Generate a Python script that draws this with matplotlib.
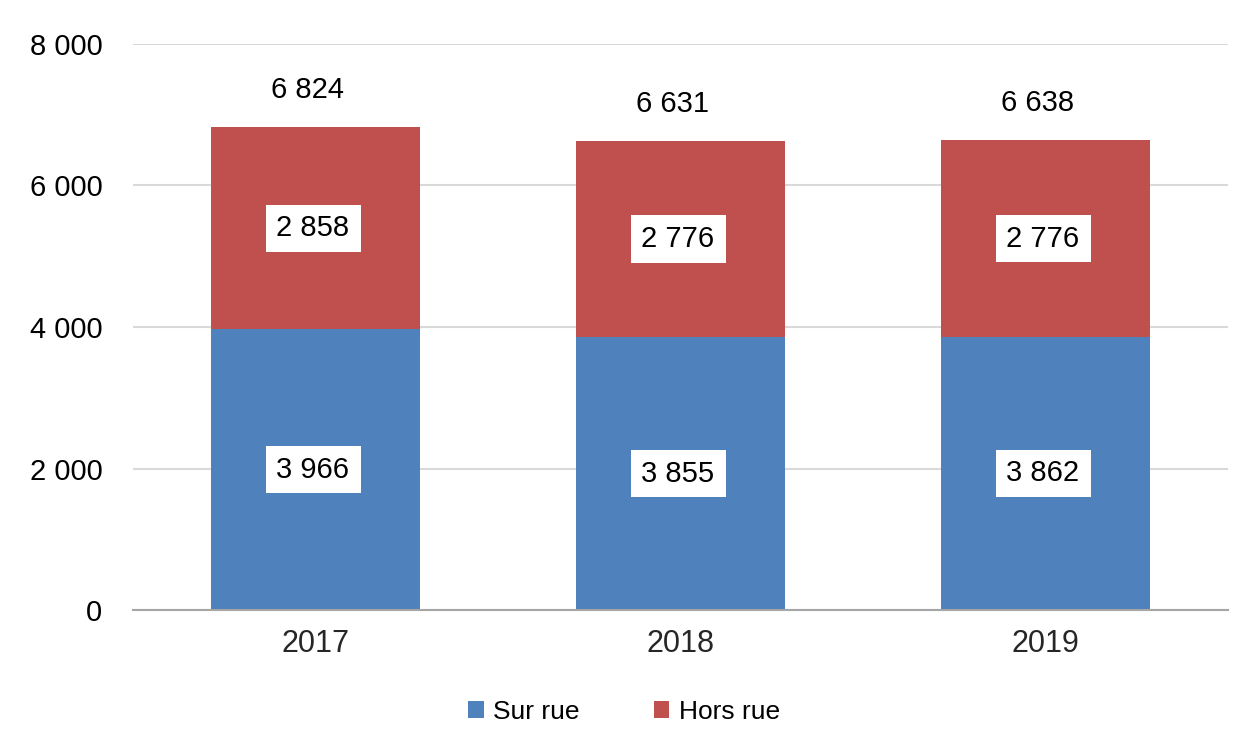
import matplotlib
matplotlib.use("Agg")
import matplotlib.pyplot as plt
from matplotlib.ticker import FuncFormatter

plt.rcParams['font.family'] = ['Liberation Sans', 'DejaVu Sans']

years = ['2017', '2018', '2019']
sur_rue = [3966, 3855, 3862]
hors_rue = [2858, 2776, 2776]
totals = [6824, 6631, 6638]

blue = '#4F81BD'
red = '#C0504D'

def fmt(v):
    return f"{int(v):,}".replace(',', ' ')

fig = plt.figure(figsize=(12.48, 7.4), dpi=100)
ax = fig.add_axes([133 / 1248, 130 / 740, 1095 / 1248, 566 / 740])

x = range(len(years))
w = 0.57
ax.bar(x, sur_rue, width=w, color=blue, label='Sur rue', zorder=3)
ax.bar(x, hors_rue, width=w, bottom=sur_rue, color=red, label='Hors rue', zorder=3)

box = dict(boxstyle='square,pad=0.33', facecolor='white', edgecolor='none')
for i in x:
    ax.annotate(fmt(sur_rue[i]) + '\u200a', (i, sur_rue[i] / 2), xytext=(-2, 0),
                textcoords='offset pixels', ha='center', va='center',
                fontsize=21, bbox=box, zorder=4)
    ax.annotate(fmt(hors_rue[i]) + '\u200a', (i, sur_rue[i] + hors_rue[i] / 2), xytext=(-2, 0),
                textcoords='offset pixels', ha='center', va='center',
                fontsize=21, bbox=box, zorder=4)
    ax.annotate(fmt(totals[i]), (i, totals[i]), xytext=(-8, 37), textcoords='offset pixels',
                ha='center', va='center', fontsize=21, zorder=4)

ax.set_xlim(-0.5, 2.5)
ax.set_ylim(0, 8000)
ax.set_yticks(range(0, 8001, 2000))
ax.yaxis.set_major_formatter(FuncFormatter(lambda v, p: fmt(v)))
ax.set_xticks(list(x))
ax.set_xticklabels(years, fontsize=22, color='#262626')
ax.tick_params(axis='y', labelsize=21, length=0, pad=22)
ax.tick_params(axis='x', length=0, pad=14)
ax.grid(axis='y', color='#d9d9d9', linewidth=1.5, zorder=0)
for s in ['top', 'right', 'left']:
    ax.spines[s].set_visible(False)
ax.spines['bottom'].set_color('#a6a6a6')
ax.spines['bottom'].set_linewidth(1.5)
ax.spines['bottom'].set_zorder(5)

handles, labels = ax.get_legend_handles_labels()
fig.legend(handles, labels, loc='center', bbox_to_anchor=(0.5, 28 / 740), ncol=2,
           frameon=False, fontsize=19, handlelength=0.6, handleheight=0.6,
           handletextpad=0.35, columnspacing=2.8)

fig.savefig('out.png', dpi=100)
